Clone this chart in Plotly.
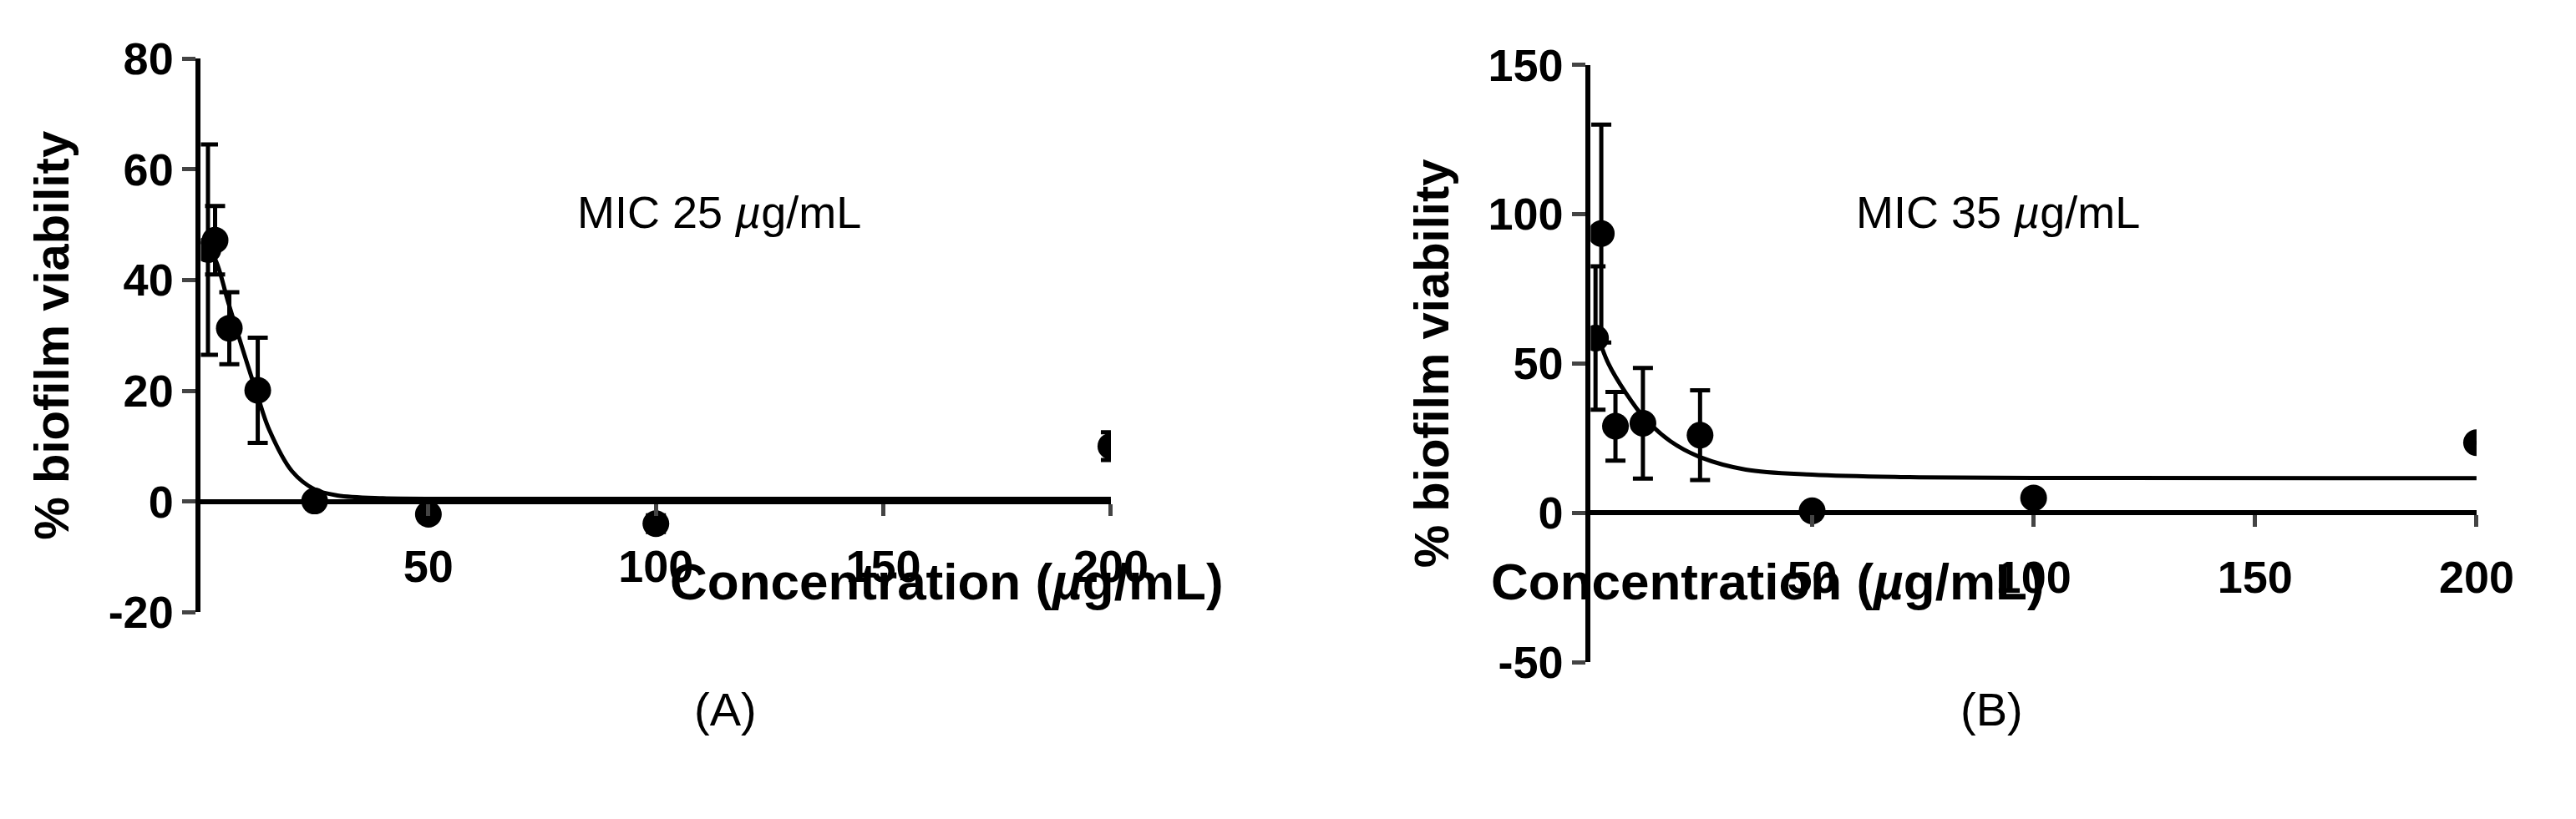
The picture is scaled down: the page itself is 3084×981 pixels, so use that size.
import plotly.graph_objects as go

# panel A data
conc_a = [1.56, 3.125, 6.25, 12.5, 25, 50, 100, 200]
via_a = [45.5, 47.2, 31.3, 20.1, 0.1, -2.3, -4.0, 10.0]
err_a = [19.0, 6.2, 6.5, 9.5, 0.0, 0.0, 1.5, 2.5]
fit_x_a = [0, 3, 6, 9, 12.5, 15, 20, 25, 30, 40, 60, 100, 200]
fit_y_a = [47, 44, 36, 28, 19, 13, 5.5, 2.2, 1.1, 0.6, 0.5, 0.5, 0.5]

# panel B data
conc_b = [1.1, 2.4, 5.6, 11.8, 24.7, 50, 100, 200]
via_b = [58.5, 93.5, 29.0, 30.0, 26.0, 0.7, 5.0, 23.5]
err_b = [24.0, 36.5, 11.5, 18.5, 15.0, 0.0, 0.0, 0.0]
fit_x_b = [1, 4, 8, 12, 18, 25, 35, 50, 70, 100, 200]
fit_y_b = [62, 50, 40, 32, 24, 18.5, 14.5, 12.8, 12.0, 11.7, 11.6]

FONT = "Liberation Sans Narrow, Liberation Sans, Arial"
BLACK = "#000000"

fig = go.Figure()

panels = [
    dict(x=conc_a, y=via_a, e=err_a, fx=fit_x_a, fy=fit_y_a, xa="x", ya="y",
         xdom=[0.0765, 0.435], ydom=[0.245, 0.965], yr=[-20, 80],
         yt=[-20, 0, 20, 40, 60, 80], mic="MIC 25 <i>µ</i>g/mL", micx=0.224,
         lab="(A)", labx=0.27),
    dict(x=conc_b, y=via_b, e=err_b, fx=fit_x_b, fy=fit_y_b, xa="x2", ya="y2",
         xdom=[0.624, 0.973], ydom=[0.18, 0.957], yr=[-50, 150],
         yt=[-50, 0, 50, 100, 150], mic="MIC 35 <i>µ</i>g/mL", micx=0.728,
         lab="(B)", labx=0.795),
]

for i, p in enumerate(panels):
    fig.add_trace(go.Scatter(x=p["fx"], y=p["fy"], mode="lines", xaxis=p["xa"], yaxis=p["ya"],
                             line=dict(color=BLACK, width=5, shape="spline"), showlegend=False))
    fig.add_trace(go.Scatter(x=p["x"], y=p["y"], mode="markers", xaxis=p["xa"], yaxis=p["ya"],
                             marker=dict(color=BLACK, size=32),
                             error_y=dict(type="data", array=p["e"], color=BLACK, thickness=5, width=12),
                             showlegend=False))
    sfx = "" if i == 0 else "2"
    y0, y1 = p["ydom"]
    lo, hi = p["yr"]
    zero_pos = y0 + (0 - lo) / (hi - lo) * (y1 - y0)
    fig.layout["xaxis" + sfx] = dict(
        domain=p["xdom"], range=[0, 200], anchor="free", position=zero_pos,
        tickvals=[50, 100, 150, 200], ticktext=["<b>50</b>", "<b>100</b>", "<b>150</b>", "<b>200</b>"],
        ticks="outside", ticklen=14, tickwidth=5,
        showline=True, linewidth=6, linecolor=BLACK, showgrid=False, zeroline=False,
        tickfont=dict(family=FONT, size=54, color=BLACK), ticklabelstandoff=14)
    fig.layout["yaxis" + sfx] = dict(
        domain=p["ydom"], range=p["yr"], anchor="x" + sfx, tickvals=p["yt"],
        ticktext=["<b>%d</b>" % v for v in p["yt"]],
        ticks="outside", ticklen=16, tickwidth=5, showline=True, linewidth=6, linecolor=BLACK,
        showgrid=False, zeroline=False, tickfont=dict(family=FONT, size=54, color=BLACK),
        title=dict(text="<b>% biofilm viability</b>", font=dict(family=FONT, size=58, color=BLACK),
                   standoff=30))
    xmid = (p["xdom"][0] + p["xdom"][1]) / 2
    fig.add_annotation(x=xmid + 0.005, y=0.285, xref="paper", yref="paper",
                       text="<b>Concentration (<i>µ</i>g/mL)</b>", showarrow=False,
                       font=dict(family=FONT, size=62, color=BLACK), yanchor="middle")
    fig.add_annotation(x=p["micx"], y=0.80, xref="paper", yref="paper",
                       text=p["mic"], showarrow=False, xanchor="left",
                       font=dict(family=FONT, size=54, color=BLACK))
    fig.add_annotation(x=p["labx"], y=0.082, xref="paper", yref="paper", text=p["lab"],
                       showarrow=False, font=dict(family=FONT, size=56, color=BLACK))

fig.update_layout(width=3084, height=981, margin=dict(l=0, r=0, t=0, b=0),
                  plot_bgcolor="white", paper_bgcolor="white")
fig.write_html("out.html")
